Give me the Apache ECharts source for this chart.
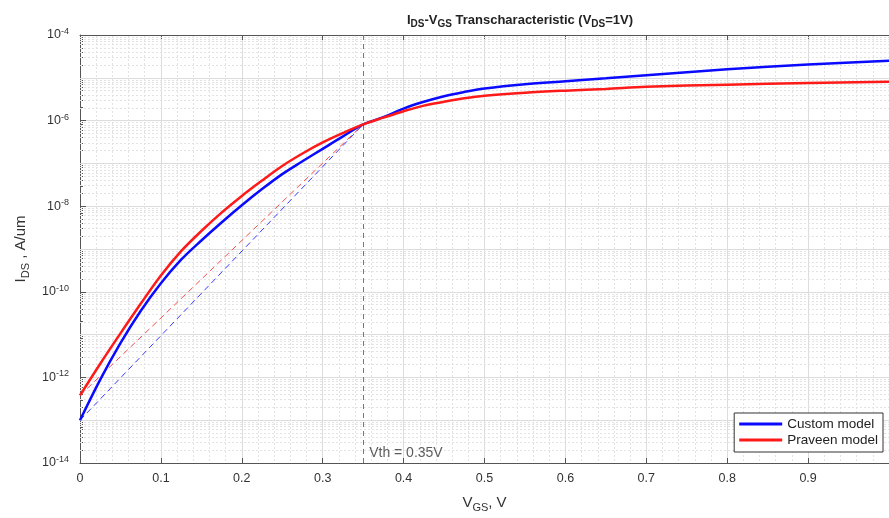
<!DOCTYPE html>
<html>
<head>
<meta charset="utf-8">
<script src="https://cdn.jsdelivr.net/npm/echarts@6/dist/echarts.min.js"></script>
<style>
  html, body { margin: 0; padding: 0; background: #ffffff; }
  #chart { width: 889px; height: 518px; }
</style>
</head>
<body>
<div id="chart"></div>
<script>
// Gate voltage sweep, V
const vgs = [0, 0.025, 0.05, 0.075, 0.1, 0.125, 0.15, 0.175, 0.2, 0.225, 0.25, 0.275, 0.3, 0.325, 0.35,
             0.375, 0.4, 0.425, 0.45, 0.475, 0.5, 0.55, 0.6, 0.65, 0.7, 0.8, 0.9, 1.0];
// Drain current, A/um
const idsCustom = [1.00e-13, 8.91e-13, 6.31e-12, 3.55e-11, 1.58e-10, 5.62e-10, 1.58e-9, 4.17e-9, 1.05e-8,
                   2.51e-8, 5.62e-8, 1.12e-7, 2.19e-7, 4.27e-7, 8.13e-7,
                   1.20e-6, 1.91e-6, 2.75e-6, 3.72e-6, 4.68e-6, 5.62e-6, 7.08e-6, 8.32e-6, 9.77e-6,
                   1.15e-5, 1.58e-5, 2.04e-5, 2.51e-5];
const idsPraveen = [3.80e-13, 2.09e-12, 1.07e-11, 5.25e-11, 2.40e-10, 8.91e-10, 2.63e-9, 7.08e-9, 1.74e-8,
                    3.98e-8, 8.71e-8, 1.70e-7, 3.09e-7, 5.13e-7, 8.13e-7,
                    1.17e-6, 1.66e-6, 2.24e-6, 2.75e-6, 3.31e-6, 3.80e-6, 4.47e-6, 5.01e-6, 5.50e-6,
                    6.17e-6, 6.92e-6, 7.59e-6, 8.13e-6];
const vth = 0.35;
const vthLabel = 'Vth = 0.35V';
const seriesNames = ['Custom model', 'Praveen model'];
// Decade range of the current axis (powers of ten)
const yDecadeMin = -14;
const yDecadeMax = -4;
const yDecadeStep = 2;

const FONT = "'Liberation Sans', Arial, Helvetica, sans-serif";
const TXT = '#333333';
const AX = '#555555';

const lg = v => Math.log10(v);
const toPts = ids => vgs.map((v, i) => [v, lg(ids[i])]);
const iVth = vgs.indexOf(vth);

// 2..9 x 10^n positions for the log-style minor grid
const minorY = [];
for (let n = yDecadeMin; n < yDecadeMax; n++) {
  for (let k = 2; k <= 9; k++) minorY.push(n + Math.log10(k));
}
const oddDecades = [];
for (let n = yDecadeMin + 1; n < yDecadeMax; n += yDecadeStep) oddDecades.push(n);

const chart = echarts.init(document.getElementById('chart'), null, { renderer: 'canvas' });

const titleRich = {
  n: { fontSize: 13, fontWeight: 'bold', color: '#222', fontFamily: FONT, lineHeight: 18 },
  s: { fontSize: 10, fontWeight: 'bold', color: '#222', fontFamily: FONT, lineHeight: 9, verticalAlign: 'bottom' }
};
const nameRich = {
  n: { fontSize: 15, color: TXT, fontFamily: FONT, lineHeight: 20 },
  s: { fontSize: 11, color: TXT, fontFamily: FONT, lineHeight: 10, verticalAlign: 'bottom' }
};
const minorGridStyle = { color: '#e3e3e3', width: 1, type: [2, 2] };
const majorGridStyle = { color: '#dcdcdc', width: 1, type: 'solid' };

chart.setOption({
  animation: false,
  backgroundColor: '#ffffff',
  textStyle: { fontFamily: FONT },
  title: {
    text: '{n|I}{s|DS}{n|-V}{s|GS}{n| Transcharacteristic (V}{s|DS}{n|=1V)}',
    left: 515, top: 6, textAlign: 'center',
    textStyle: { rich: titleRich }
  },
  grid: { left: 80, right: -5, top: 35, bottom: 53, containLabel: false },
  legend: {
    data: seriesNames,
    orient: 'vertical',
    right: 6, top: 413, z: 20,
    itemWidth: 43, itemHeight: 3, itemGap: 2,
    icon: 'rect',
    padding: [4, 5, 5, 5],
    backgroundColor: '#ffffff',
    borderColor: '#333333', borderWidth: 1, borderRadius: 0,
    textStyle: { fontSize: 13.5, color: '#222', fontFamily: FONT }
  },
  xAxis: [{
    type: 'value', min: 0, max: 1, interval: 0.1,
    name: '{n|V}{s|GS}{n|, V}', nameLocation: 'middle', nameGap: 30,
    nameTextStyle: { rich: nameRich },
    axisLine: { show: true, onZero: false, lineStyle: { color: AX, width: 1 } },
    axisTick: { show: true, inside: true, length: 5, lineStyle: { color: AX } },
    axisLabel: { color: TXT, fontSize: 12.5, margin: 9, fontFamily: FONT, showMaxLabel: false,
                 formatter: v => String(Math.round(v * 10) / 10) },
    splitLine: { show: true, lineStyle: majorGridStyle },
    minorTick: { show: false, splitNumber: 5 },
    minorSplitLine: { show: true, lineStyle: minorGridStyle }
  }, {
    type: 'value', min: 0, max: 1, interval: 0.1, position: 'top',
    axisLine: { show: true, onZero: false, lineStyle: { color: AX, width: 1 } },
    axisTick: { show: true, inside: true, length: 5, lineStyle: { color: AX } },
    axisLabel: { show: false }, splitLine: { show: false }
  }],
  yAxis: [{
    type: 'value', min: yDecadeMin, max: yDecadeMax, interval: yDecadeStep,
    name: '{n|I}{s|DS}{n| , A/um}', nameLocation: 'middle', nameGap: 47, nameRotate: 90,
    nameTextStyle: { rich: nameRich },
    axisLine: { show: true, onZero: false, lineStyle: { color: AX, width: 1 } },
    axisTick: { show: true, inside: true, length: 6, lineStyle: { color: AX } },
    axisLabel: {
      margin: 11, color: TXT, fontFamily: FONT,
      formatter: v => '{b|10}{e|' + v + '}',
      rich: {
        b: { fontSize: 12.5, color: TXT, fontFamily: FONT, lineHeight: 16 },
        e: { fontSize: 9, color: TXT, fontFamily: FONT, lineHeight: 9, verticalAlign: 'top' }
      }
    },
    splitLine: { show: true, lineStyle: majorGridStyle }
  }, {
    type: 'value', min: yDecadeMin, max: yDecadeMax, position: 'left',
    axisLine: { show: false },
    axisTick: { show: true, inside: true, length: 3, customValues: minorY, lineStyle: { color: AX } },
    axisLabel: { show: false },
    splitLine: { show: false }
  }],
  series: [
    {
      // background grid: minor decade lines and odd-decade majors
      name: 'grid', type: 'line', data: [], silent: true, z: 1,
      markLine: {
        silent: true, symbol: 'none', animation: false, z: 1,
        label: { show: false },
        lineStyle: minorGridStyle,
        data: minorY.map(y => ({ yAxis: y })).concat(
          oddDecades.map(y => ({ yAxis: y, lineStyle: majorGridStyle })))
      }
    },
    {
      name: 'vth', type: 'line', data: [], silent: true, z: 2,
      markLine: {
        silent: true, symbol: 'none', animation: false, z: 2,
        label: { show: false },
        lineStyle: { color: '#777777', width: 1, type: [5, 4] },
        data: [{ xAxis: vth }]
      }
    },
    {
      name: 'vthLabel', type: 'scatter', symbolSize: 0, silent: true, z: 6,
      data: [[vth, yDecadeMin + 0.24]],
      label: { show: true, position: 'right', distance: 6, formatter: vthLabel,
               color: TXT, fontSize: 14, fontFamily: FONT }
    },
    {
      name: 'customRef', type: 'line', symbol: 'none', silent: true, z: 3,
      data: [[vgs[0], lg(idsCustom[0])], [vth, lg(idsCustom[iVth])]],
      lineStyle: { color: '#3a3aff', width: 1, type: [6, 4] }
    },
    {
      name: 'praveenRef', type: 'line', symbol: 'none', silent: true, z: 3,
      data: [[vgs[0], lg(idsPraveen[0])], [vth, lg(idsPraveen[iVth])]],
      lineStyle: { color: '#f05050', width: 1, type: [6, 4] }
    },
    {
      name: seriesNames[0], type: 'line', symbol: 'none', smooth: 0.35, z: 4,
      data: toPts(idsCustom),
      color: '#0a0aff',
      lineStyle: { color: '#0a0aff', width: 2.5 }
    },
    {
      name: seriesNames[1], type: 'line', symbol: 'none', smooth: 0.35, z: 5,
      data: toPts(idsPraveen),
      color: '#ff1a1a',
      lineStyle: { color: '#ff1a1a', width: 2.5 }
    }
  ]
});
</script>
</body>
</html>
